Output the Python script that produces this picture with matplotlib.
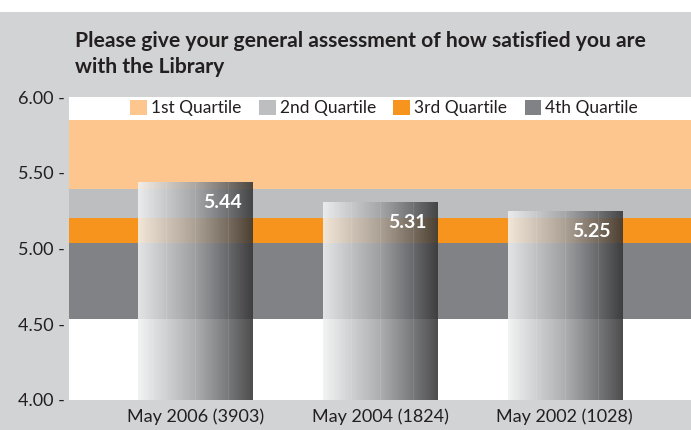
import numpy as np
import matplotlib
matplotlib.use("Agg")
import matplotlib.pyplot as plt
from matplotlib.patches import Patch, Rectangle
from matplotlib.colors import LinearSegmentedColormap

plt.rcParams['font.family'] = ['Lato', 'DejaVu Sans']

# ---- data ----
categories = ["May 2006 (3903)", "May 2004 (1824)", "May 2002 (1028)"]
values = [5.44, 5.31, 5.25]
value_labels = ["5.44", "5.31", "5.25"]
quartile_names = ["1st Quartile", "2nd Quartile", "3rd Quartile", "4th Quartile"]
quartile_bounds = [(5.39, 5.85), (5.20, 5.39), (5.035, 5.20), (4.535, 5.035)]
quartile_colors = ["#fdc68f", "#bcbec0", "#f7941d", "#808285"]
yticks = [4.0, 4.5, 5.0, 5.5, 6.0]
title = "Please give your general assessment of how satisfied you are\nwith the Library"

text_color = "#231f20"
bg_gray = "#d1d3d4"

fig = plt.figure(figsize=(6.91, 4.30), dpi=100)
fig.patch.set_facecolor("white")
fig.patches.append(Rectangle((0, 0), 1, 418 / 430, transform=fig.transFigure,
                             facecolor=bg_gray, edgecolor="none", zorder=0))

ax = fig.add_axes([69 / 691, 30 / 430, 622 / 691, 303 / 430])
ax.set_facecolor("white")
ax.set_zorder(1)

for (lo, hi), c in zip(quartile_bounds, quartile_colors):
    ax.axhspan(lo, hi, color=c, lw=0, zorder=1)

x = np.arange(len(categories))
width = 0.62
bars = ax.bar(x, values, width=width, color="none", edgecolor="none", zorder=3)

cmap = LinearSegmentedColormap.from_list(
    "barg", [(0.0, "#f1f2f2"), (0.25, "#c9cacc"), (0.5, "#a1a3a5"),
             (0.75, "#6d6e71"), (1.0, "#353536")])
grad = np.linspace(0, 1, 256).reshape(1, -1)

ymin, ymax = 4.0, 6.0
for xi, v, b, lab in zip(x, values, bars, value_labels):
    im = ax.imshow(grad, extent=[xi - width / 2, xi + width / 2, ymin, v],
                   aspect="auto", cmap=cmap, alpha=0.88, zorder=3,
                   interpolation="bilinear")
    im.set_clip_path(b)
    for f in (0.245, 0.5, 0.79):
        ax.plot([xi - width / 2 + f * width] * 2, [ymin, v], color="#ffffff",
                lw=0.6, alpha=0.12, zorder=4)
    ax.text(xi + 0.146, v - 0.139, lab, color="white", fontsize=14,
            fontweight="bold", ha="center", va="center", zorder=5)

ax.set_xlim(-0.683, 2.683)
ax.set_ylim(ymin, ymax)
ax.set_xticks(x)
ax.set_xticklabels(categories, fontsize=13, color=text_color)
ax.set_yticks(yticks)
ax.set_yticklabels([f"{t:.2f} -" for t in yticks], fontsize=13, color=text_color)
ax.tick_params(axis="both", length=0)
ax.tick_params(axis="y", pad=3)
ax.tick_params(axis="x", pad=6)
for s in ax.spines.values():
    s.set_visible(False)

handles = [Patch(facecolor=c, edgecolor="none", label=n)
           for n, c in zip(quartile_names, quartile_colors)]
leg = ax.legend(handles=handles, ncol=4, frameon=False, loc="center",
                bbox_to_anchor=(0.507, 0.9637), fontsize=12.5,
                handlelength=0.95, handleheight=0.95, handletextpad=0.25,
                columnspacing=1.0, borderpad=0, borderaxespad=0)
for t in leg.get_texts():
    t.set_color(text_color)

fig.text(75 / 691, 1 - 31 / 430, title, fontsize=15.2, fontweight="bold",
         color=text_color, ha="left", va="top", linespacing=1.35)

fig.savefig("out.png", dpi=100, facecolor=fig.get_facecolor())
